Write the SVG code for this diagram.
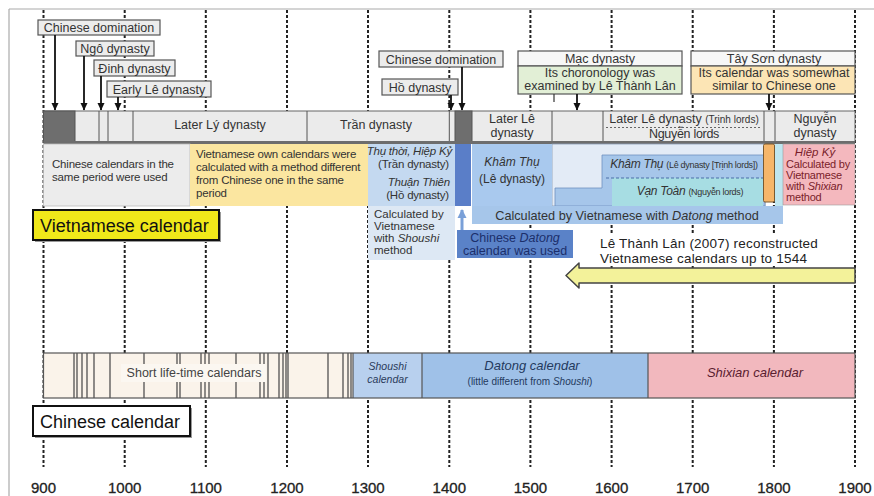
<svg xmlns="http://www.w3.org/2000/svg" width="874" height="496" viewBox="0 0 874 496">
<defs>
<style>
.t{font-family:"Liberation Sans",Arial,sans-serif;fill:#333}
.l{font-size:12.5px}
.s{font-size:11.5px;letter-spacing:-0.2px}
.i{font-style:italic}
.c{text-anchor:middle}
.e{text-anchor:end}
.grid{stroke:#222;stroke-width:2;stroke-dasharray:3 2}
.box{fill:#ececec;stroke:#555;stroke-width:1.2}
.arr{stroke:#111;stroke-width:1.8;fill:none;marker-end:url(#ah)}
.sep{stroke:#555;stroke-width:1}
.ax{font-family:"Liberation Sans",Arial,sans-serif;font-size:15px;fill:#222;text-anchor:middle;stroke:#222;stroke-width:0.3}
</style>
<marker id="ah" markerUnits="userSpaceOnUse" markerWidth="8" markerHeight="8" refX="7" refY="4" orient="auto">
<path d="M0,0.5 L7.5,4 L0,7.5 z" fill="#111"/>
</marker>
<marker id="ahb" markerUnits="userSpaceOnUse" markerWidth="10" markerHeight="10" refX="8" refY="5" orient="auto">
<path d="M0,0.5 L9,5 L0,9.5 z" fill="#7aa0d8"/>
</marker>
</defs>
<rect width="874" height="496" fill="#fff"/>
<g id="frame" stroke="#aaa" stroke-width="1.2">
<line x1="9" y1="9" x2="874" y2="9"/>
<line x1="9" y1="9" x2="9" y2="496"/>
</g>
<g id="grid">
<line class="grid" x1="43.5" y1="10" x2="43.5" y2="467"/>
<line class="grid" x1="124.7" y1="10" x2="124.7" y2="467"/>
<line class="grid" x1="205.8" y1="10" x2="205.8" y2="467"/>
<line class="grid" x1="287" y1="10" x2="287" y2="467"/>
<line class="grid" x1="368" y1="10" x2="368" y2="467"/>
<line class="grid" x1="449.3" y1="10" x2="449.3" y2="467"/>
<line class="grid" x1="530.4" y1="10" x2="530.4" y2="467"/>
<line class="grid" x1="611.6" y1="10" x2="611.6" y2="467"/>
<line class="grid" x1="692.7" y1="10" x2="692.7" y2="467"/>
<line class="grid" x1="773.9" y1="10" x2="773.9" y2="467"/>
<line class="grid" x1="855" y1="10" x2="855" y2="467"/>
</g>
<g id="axis">
<text class="ax" x="43.5" y="493">900</text>
<text class="ax" x="124.7" y="493">1000</text>
<text class="ax" x="205.8" y="493">1100</text>
<text class="ax" x="287" y="493">1200</text>
<text class="ax" x="368" y="493">1300</text>
<text class="ax" x="449.3" y="493">1400</text>
<text class="ax" x="530.4" y="493">1500</text>
<text class="ax" x="611.6" y="493">1600</text>
<text class="ax" x="692.7" y="493">1700</text>
<text class="ax" x="773.9" y="493">1800</text>
<text class="ax" x="855" y="493">1900</text>
</g>
<g id="dynasty-bar">
<rect x="43.5" y="111" width="811.5" height="31" fill="#ebebeb" stroke="#666" stroke-width="1"/>
<rect x="43.5" y="111" width="31.5" height="31" fill="#6e6e6e" stroke="#555"/>
<rect x="455" y="111" width="17" height="31" fill="#6e6e6e" stroke="#555"/>
<line class="sep" x1="99" y1="111" x2="99" y2="142"/>
<line class="sep" x1="108" y1="111" x2="108" y2="142"/>
<line class="sep" x1="133" y1="111" x2="133" y2="142"/>
<line class="sep" x1="307" y1="111" x2="307" y2="142"/>
<line class="sep" x1="449.3" y1="111" x2="449.3" y2="142"/>
<line class="sep" x1="552" y1="111" x2="552" y2="142"/>
<line class="sep" x1="603" y1="111" x2="603" y2="142"/>
<line class="sep" x1="764" y1="111" x2="764" y2="142"/>
<line class="sep" x1="775" y1="111" x2="775" y2="142"/>
<line x1="43.5" y1="142.5" x2="855" y2="142.5" stroke="#6d6d6d" stroke-width="3"/>
<text class="t l c" x="220" y="129">Later Lý dynasty</text>
<text class="t l c" x="376" y="129">Trần dynasty</text>
<text class="t l c" x="512" y="123">Later Lê</text>
<text class="t l c" x="512" y="137">dynasty</text>
<text class="t l c" x="684" y="123">Later Lê dynasty <tspan style="font-size:10px">(Trịnh lords)</tspan></text>
<line x1="606" y1="127.5" x2="760" y2="127.5" stroke="#666" stroke-width="1" stroke-dasharray="2 2"/>
<text class="t l c" x="684" y="138" style="letter-spacing:-0.3px">Nguyễn lords</text>
<text class="t l c" x="815" y="123">Nguyễn</text>
<text class="t l c" x="815" y="137">dynasty</text>
</g>
<g id="lbl-chinese-domination-1">
<rect class="box" x="38" y="20" width="122" height="15"/>
<text class="t l c" x="99" y="32">Chinese domination</text>
<line class="arr" x1="55" y1="35" x2="55" y2="110"/>
</g>
<g id="lbl-ngo">
<rect class="box" x="76" y="41" width="78" height="15"/>
<text class="t l c" x="115" y="53">Ngô dynasty</text>
<line class="arr" x1="84" y1="56" x2="84" y2="110"/>
</g>
<g id="lbl-dinh">
<rect class="box" x="94" y="60" width="81" height="16"/>
<text class="t l c" x="134.5" y="72.5">Đinh dynasty</text>
<line class="arr" x1="101" y1="76" x2="101" y2="110"/>
</g>
<g id="lbl-early-le">
<rect class="box" x="107" y="81" width="104" height="16"/>
<text class="t l c" x="159" y="93.5">Early Lê dynasty</text>
<line class="arr" x1="118" y1="97" x2="118" y2="110"/>
</g>
<g id="lbl-chinese-domination-2">
<rect class="box" x="379" y="51" width="124" height="16"/>
<text class="t l c" x="441" y="63.5">Chinese domination</text>
<line class="arr" x1="462" y1="67" x2="462" y2="110"/>
</g>
<g id="lbl-ho">
<rect class="box" x="382" y="79" width="76" height="16"/>
<text class="t l c" x="420" y="91.5">Hồ dynasty</text>
<line class="arr" x1="451" y1="95" x2="451" y2="110"/>
</g>
<g id="lbl-mac">
<rect x="518" y="51" width="164" height="15" fill="#f7f7f7" stroke="#555" stroke-width="1.2"/>
<rect x="518" y="66" width="164" height="28" fill="#e2efd6" stroke="#555" stroke-width="1.2"/>
<text class="t l c" x="600" y="63">Mạc dynasty</text>
<text class="t l c" x="600" y="77" fill="#2f3d28">Its choronology was</text>
<text class="t l c" x="600" y="89.5" fill="#2f3d28">examined by Lê Thành Lân</text>
<line x1="554" y1="94" x2="554" y2="102" stroke="#333" stroke-width="1.2"/>
<line class="arr" x1="577" y1="94" x2="577" y2="110"/>
</g>
<g id="lbl-tayson">
<rect x="691" y="51" width="164" height="15" fill="#f7f7f7" stroke="#555" stroke-width="1.2"/>
<rect x="691" y="66" width="164" height="28" fill="#fce5b5" stroke="#555" stroke-width="1.2"/>
<text class="t l c" x="774" y="63">Tây Sơn dynasty</text>
<text class="t l c" x="774" y="77" fill="#4a3518">Its calendar was somewhat</text>
<text class="t l c" x="774" y="89.5" fill="#4a3518">similar to Chinese one</text>
<line class="arr" x1="769" y1="94" x2="769" y2="110"/>
</g>
<g id="viet-chinese-used">
<rect x="43.5" y="144" width="146.5" height="62" fill="#ececec" stroke="#bbb" stroke-width="0.8"/>
<text class="t s" x="52" y="168">Chinese calendars in the</text>
<text class="t s" x="52" y="181">same period were used</text>
</g>
<g id="viet-own">
<rect x="190" y="144" width="178" height="62" fill="#fbe6a0"/>
<text class="t s" x="196" y="158">Vietnamese own calendars were</text>
<text class="t s" x="196" y="171">calculated with a method different</text>
<text class="t s" x="196" y="184">from Chinese one in the same</text>
<text class="t s" x="196" y="197">period</text>
</g>
<g id="viet-tran-ho">
<rect x="368" y="144" width="87" height="62" fill="#c4d9f0"/>
<text class="t s e i" x="452" y="155">Thụ thời, Hiệp Kỷ</text>
<text class="t s e" x="449" y="168">(Trần dynasty)</text>
<text class="t s e i" x="450" y="186">Thuận Thiên</text>
<text class="t s e" x="449" y="199">(Hồ dynasty)</text>
</g>
<g id="viet-shoushi">
<rect x="368" y="206" width="87" height="54" fill="#dde8f4"/>
<text class="t" style="font-size:11.5px" x="374" y="217.5">Calculated by</text>
<text class="t" style="font-size:11.5px" x="374" y="229.5">Vietnamese</text>
<text class="t" style="font-size:11.5px" x="374" y="241.5">with <tspan class="i">Shoushi</tspan></text>
<text class="t" style="font-size:11.5px" x="374" y="253.5">method</text>
</g>
<g id="viet-chinese-datong-col">
<rect x="455" y="144" width="16" height="62" fill="#5a7ec8"/>
</g>
<g id="viet-datong">
<rect x="552" y="144" width="213" height="62" fill="#e3ebf6" stroke="#8a9bb5" stroke-width="0.8"/>
<polygon points="555,206 555,188 602,188 602,155 765,155 765,206" fill="#a6c6ea" stroke="#6f8fc0" stroke-width="0.8"/>
<rect x="472" y="144" width="80" height="62" fill="#a9c9ee"/>
<rect x="472" y="206" width="311" height="18" fill="#a6c6ea"/>
<rect x="612" y="178" width="151" height="28" fill="#a7dde3"/>
<line x1="606" y1="178" x2="763" y2="178" stroke="#4a6fa8" stroke-width="1.2" stroke-dasharray="3 2"/>
<text class="t i c" style="font-size:12px" x="512" y="166">Khâm Thụ</text>
<text class="t c" style="font-size:12px" x="512" y="183">(Lê dynasty)</text>
<text class="t c" x="684" y="168" style="font-size:12px;letter-spacing:-0.3px"><tspan class="i">Khâm Thụ</tspan> <tspan style="font-size:9px">(Lê dynasty [Trịnh lords])</tspan></text>
<text class="t c" x="690" y="195" style="font-size:12px;letter-spacing:-0.3px"><tspan class="i">Vạn Toàn</tspan> <tspan style="font-size:9px">(Nguyễn lords)</tspan></text>
<text class="t c" style="font-size:12.7px" x="627" y="219.5">Calculated by Vietnamese with <tspan class="i">Datong</tspan> method</text>
</g>
<g id="viet-tayson">
<rect x="775" y="144" width="8" height="62" fill="#bfe6ef"/>
<rect x="763.5" y="144" width="11" height="58" rx="1.5" fill="#f6b66a" stroke="#7a5a30" stroke-width="1"/>
</g>
<g id="viet-hiepky">
<rect x="783" y="144" width="72" height="61" fill="#f4b8be" stroke="#999" stroke-width="0.6"/>
<text class="t i c" style="font-size:11.5px;fill:#7a1d2a" x="815" y="156">Hiệp Kỷ</text>
<text class="t" style="font-size:11px;letter-spacing:-0.2px;fill:#7a1d2a" x="786" y="168">Calculated by</text>
<text class="t" style="font-size:11px;letter-spacing:-0.2px;fill:#7a1d2a" x="786" y="179">Vietnamese</text>
<text class="t" style="font-size:11px;letter-spacing:-0.2px;fill:#7a1d2a" x="786" y="190">with <tspan class="i">Shixian</tspan></text>
<text class="t" style="font-size:11px;letter-spacing:-0.2px;fill:#7a1d2a" x="786" y="201">method</text>
</g>
<g id="chinese-datong-used">
<rect x="457" y="230" width="116" height="28" fill="#5a82c8"/>
<text class="t c" style="font-size:12.5px;fill:#1c2f6b" x="515" y="242">Chinese <tspan class="i">Datong</tspan></text>
<text class="t c" style="font-size:12.5px;fill:#1c2f6b" x="515" y="254.5">calendar was used</text>
<line x1="462" y1="230" x2="462" y2="210" stroke="#7aa0d8" stroke-width="3" marker-end="url(#ahb)"/>
</g>
<g id="vietnamese-calendar-label">
<rect x="35" y="212" width="186" height="30" fill="#999"/>
<rect x="33" y="210" width="186" height="30" fill="#f0e81a" stroke="#111" stroke-width="2"/>
<text class="t" style="font-size:18px;fill:#111" x="40" y="232">Vietnamese calendar</text>
</g>
<g id="le-thanh-lan">
<rect x="596" y="235" width="228" height="31" fill="#fff"/>
<text class="t" style="font-size:13.5px;fill:#222;letter-spacing:0.2px" x="600" y="248">Lê Thành Lân (2007) reconstructed</text>
<text class="t" style="font-size:13.5px;fill:#222;letter-spacing:0.2px" x="600" y="263">Vietnamese calendars up to 1544</text>
<polygon points="855,268 579,268 579,263 566,275.5 579,288 579,283 855,283" fill="#f3f29a" stroke="#444" stroke-width="1.5" stroke-linejoin="round"/>
</g>
<g id="chinese-short">
<rect x="43.5" y="353" width="309.5" height="45" fill="#faf3ea"/>
<g stroke="#444" stroke-width="1.2">
<line x1="74" y1="353" x2="74" y2="398"/>
<line x1="77" y1="353" x2="77" y2="398"/>
<line x1="82" y1="353" x2="82" y2="398"/>
<line x1="87" y1="353" x2="87" y2="398"/>
<line x1="94" y1="353" x2="94" y2="398"/>
<line x1="110" y1="353" x2="110" y2="398"/>
<line x1="144" y1="353" x2="144" y2="398"/>
<line x1="177" y1="353" x2="177" y2="398"/>
<line x1="180" y1="353" x2="180" y2="398"/>
<line x1="201" y1="353" x2="201" y2="398"/>
<line x1="205" y1="353" x2="205" y2="398"/>
<line x1="209" y1="353" x2="209" y2="398"/>
<line x1="236" y1="353" x2="236" y2="398"/>
<line x1="260" y1="353" x2="260" y2="398"/>
<line x1="264" y1="353" x2="264" y2="398"/>
<line x1="268" y1="353" x2="268" y2="398"/>
<line x1="279" y1="353" x2="279" y2="398"/>
<line x1="283" y1="353" x2="283" y2="398"/>
<line x1="286" y1="353" x2="286" y2="398"/>
<line x1="288" y1="353" x2="288" y2="398"/>
<line x1="328" y1="353" x2="328" y2="398"/>
<line x1="343" y1="353" x2="343" y2="398"/>
<line x1="348" y1="353" x2="348" y2="398"/>
<line x1="351" y1="353" x2="351" y2="398"/>
</g>
<rect x="121" y="364" width="145" height="18" fill="#fbf7f1"/>
<text class="t c" style="font-size:12.5px;fill:#444" x="194" y="377">Short life-time calendars</text>
</g>
<g id="chinese-shoushi">
<rect x="353" y="353" width="69" height="45" fill="#b8d0ee"/>
<text class="t i c" style="font-size:10.5px;fill:#2a3a5a" x="387.5" y="370">Shoushi</text>
<text class="t i c" style="font-size:10.5px;fill:#2a3a5a" x="387.5" y="383">calendar</text>
</g>
<g id="chinese-datong">
<rect x="422" y="353" width="226" height="45" fill="#9fc1e8"/>
<text class="t i c" style="font-size:13px;fill:#243a5e" x="532" y="370">Datong calendar</text>
<text class="t c" style="font-size:10px;fill:#243a5e" x="530" y="385">(little different from <tspan class="i">Shoushi</tspan>)</text>
</g>
<g id="chinese-shixian">
<rect x="648" y="353" width="207" height="45" fill="#f2b8be"/>
<text class="t i c" style="font-size:13px;fill:#5a2030" x="755" y="377">Shixian calendar</text>
</g>
<g id="chinese-bar-border" stroke="#555" stroke-width="1.2" fill="none">
<rect x="43.5" y="353" width="811.5" height="45"/>
<line x1="353" y1="353" x2="353" y2="398"/>
<line x1="422" y1="353" x2="422" y2="398"/>
<line x1="648" y1="353" x2="648" y2="398"/>
</g>
<g id="chinese-calendar-label">
<rect x="35" y="408" width="157" height="30" fill="#999"/>
<rect x="33" y="406" width="157" height="30" fill="#fff" stroke="#111" stroke-width="2"/>
<text class="t" style="font-size:18px;fill:#111" x="40" y="428">Chinese calendar</text>
</g>
</svg>
